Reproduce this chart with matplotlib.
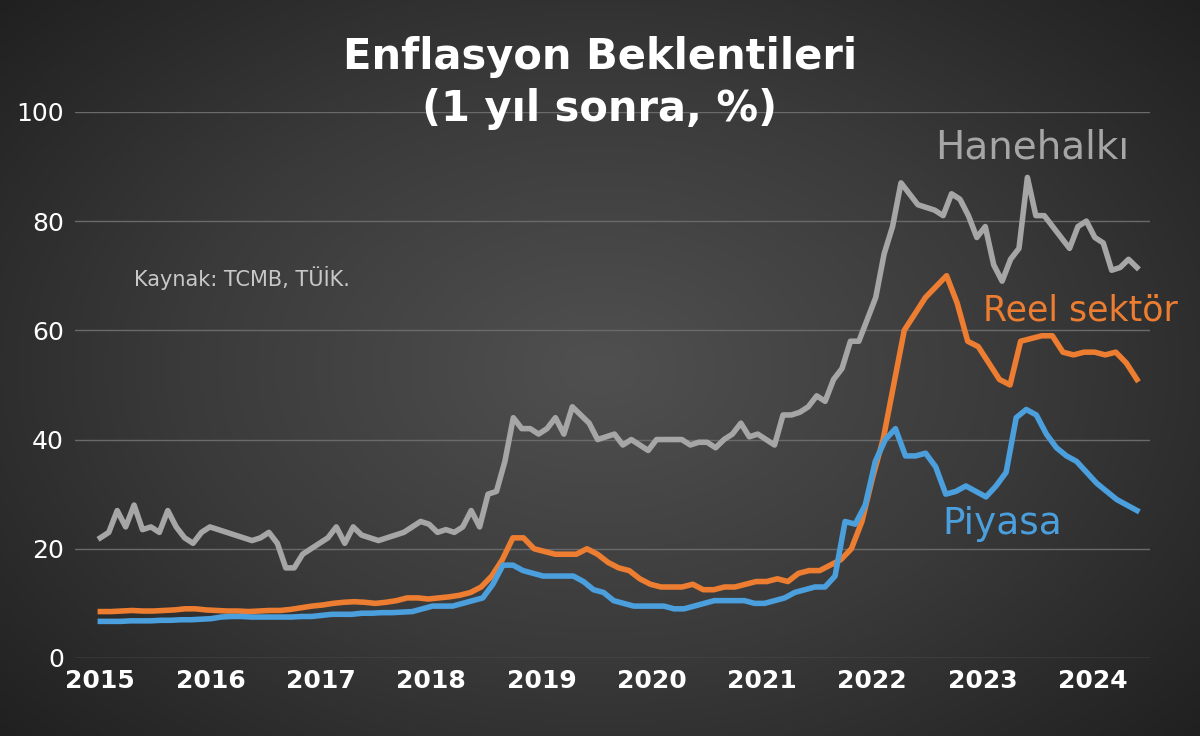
import numpy as np
import matplotlib
matplotlib.use("Agg")
import matplotlib.pyplot as plt
from matplotlib.colors import LinearSegmentedColormap

years = [2015, 2016, 2017, 2018, 2019, 2020, 2021, 2022, 2023, 2024]
yticks = [0, 20, 40, 60, 80, 100]

hanehalki = [22, 23, 27, 24, 28, 23.5, 24, 23, 27, 24, 22, 21, 23, 24, 23.5, 23, 22.5, 22, 21.5, 22, 23, 21,
             16.5, 16.5, 19, 20, 21, 22, 24, 21, 24, 22.5, 22, 21.5, 22, 22.5, 23, 24, 25, 24.5, 23, 23.5, 23,
             24, 27, 24, 30, 30.5, 36, 44, 42, 42, 41, 42, 44, 41, 46, 44.5, 43, 40, 40.5, 41, 39, 40, 39, 38,
             40, 40, 40, 40, 39, 39.5, 39.5, 38.5, 40, 41, 43, 40.5, 41, 40, 39, 44.5, 44.5, 45, 46, 48, 47, 51,
             53, 58, 58, 62, 66, 74, 79, 87, 85, 83, 82.5, 82, 81, 85, 84, 81, 77, 79, 72, 69, 73, 75, 88, 81,
             81, 79, 77, 75, 79, 80, 77, 76, 71, 71.5, 73, 71.5]
reel = [8.5, 8.5, 8.6, 8.7, 8.6, 8.6, 8.7, 8.8, 9, 9, 8.8, 8.7, 8.6, 8.6, 8.5, 8.6, 8.7,
        8.7, 8.9, 9.2, 9.5, 9.7, 10, 10.2, 10.3, 10.2, 10, 10.2, 10.5, 11, 11, 10.8, 11, 11.2, 11.5,
        12, 13, 15, 18, 22, 22, 20, 19.5, 19, 19, 19, 20, 19, 17.5, 16.5, 16, 14.5, 13.5, 13, 13, 13, 13.5,
        12.5, 12.5, 13, 13, 13.5, 14, 14, 14.5, 14, 15.5, 16, 16, 17, 18, 20, 25, 33, 40, 50, 60, 63, 66, 68,
        70, 65, 58, 57, 54, 51, 50, 58, 58.5, 59, 59, 56, 55.5, 56, 56, 55.5, 56, 54, 51]
piyasa = [6.7, 6.7, 6.7, 6.8, 6.8, 6.8, 6.9, 6.9, 7, 7, 7.1, 7.2, 7.5, 7.6, 7.6, 7.5, 7.5, 7.5, 7.5, 7.5, 7.6, 7.6,
          7.8, 8, 8, 8, 8.2, 8.2, 8.3, 8.3, 8.4, 8.5, 9, 9.5, 9.5, 9.5, 10, 10.5, 11, 13.5, 17, 17, 16, 15.5,
          15, 15, 15, 15, 14, 12.5, 12, 10.5, 10, 9.5, 9.5, 9.5, 9.5, 9, 9, 9.5, 10, 10.5, 10.5, 10.5, 10.5, 10, 10, 10.5,
          11, 12, 12.5, 13, 13, 15, 25, 24.5, 28, 36, 40, 42, 37, 37, 37.5, 35, 30, 30.5, 31.5, 30.5, 29.5, 31.5,
          34, 44, 45.5, 44.5, 41, 38.5, 37, 36, 34, 32, 30.5, 29, 28, 27]

fig = plt.figure(figsize=(12, 7.36), dpi=100)
bg = fig.add_axes([0, 0, 1, 1], zorder=-1)
yy, xx = np.mgrid[-1:1:300j, -1:1:400j]
r = np.sqrt(xx**2 + (yy * 0.9)**2)
cm = LinearSegmentedColormap.from_list("bg", ["#505050", "#3a3a3a", "#1e1e1e"])
bg.imshow(np.clip(r / 1.4, 0, 1), cmap=cm, vmin=0, vmax=1, aspect="auto", extent=[0, 1, 0, 1])
bg.axis("off")

ax = fig.add_axes([0.0625, 0.106, 0.896, 0.742])
ax.patch.set_alpha(0)
x0, x1 = 2015.0, 2024.4
ax.plot(np.linspace(x0, x1, len(hanehalki)), hanehalki, color="#a6a6a6", lw=4)
ax.plot(np.linspace(x0, x1, len(reel)), reel, color="#ed7d31", lw=4)
ax.plot(np.linspace(x0, x1, len(piyasa)), piyasa, color="#4a9fdc", lw=4)
ax.set_xlim(2014.77, 2024.52)
ax.set_ylim(0, 100)
ax.set_yticks(yticks)
ax.set_xticks(years)
ax.grid(axis="y", color="#6a6a6a", lw=1)
ax.tick_params(length=0, labelsize=18, colors="white", pad=8)
for lab in ax.get_xticklabels():
    lab.set_fontweight("bold")
for s in ax.spines.values():
    s.set_visible(False)

fig.text(0.5, 0.887, "Enflasyon Beklentileri\n(1 yıl sonra, %)", ha="center", va="center",
         color="white", fontsize=30, fontweight="bold", linespacing=1.3)
fig.text(0.86, 0.80, "Hanehalkı", color="#a6a6a6", fontsize=28, ha="center", va="center")
fig.text(0.90, 0.578, "Reel sektör", color="#ed7d31", fontsize=25, ha="center", va="center")
fig.text(0.835, 0.288, "Piyasa", color="#4a9fdc", fontsize=27, ha="center", va="center")
fig.text(0.112, 0.622, "Kaynak: TCMB, TÜİK.", color="#c8c8c8", fontsize=15, ha="left", va="center")

fig.savefig("out.png", dpi=100)
